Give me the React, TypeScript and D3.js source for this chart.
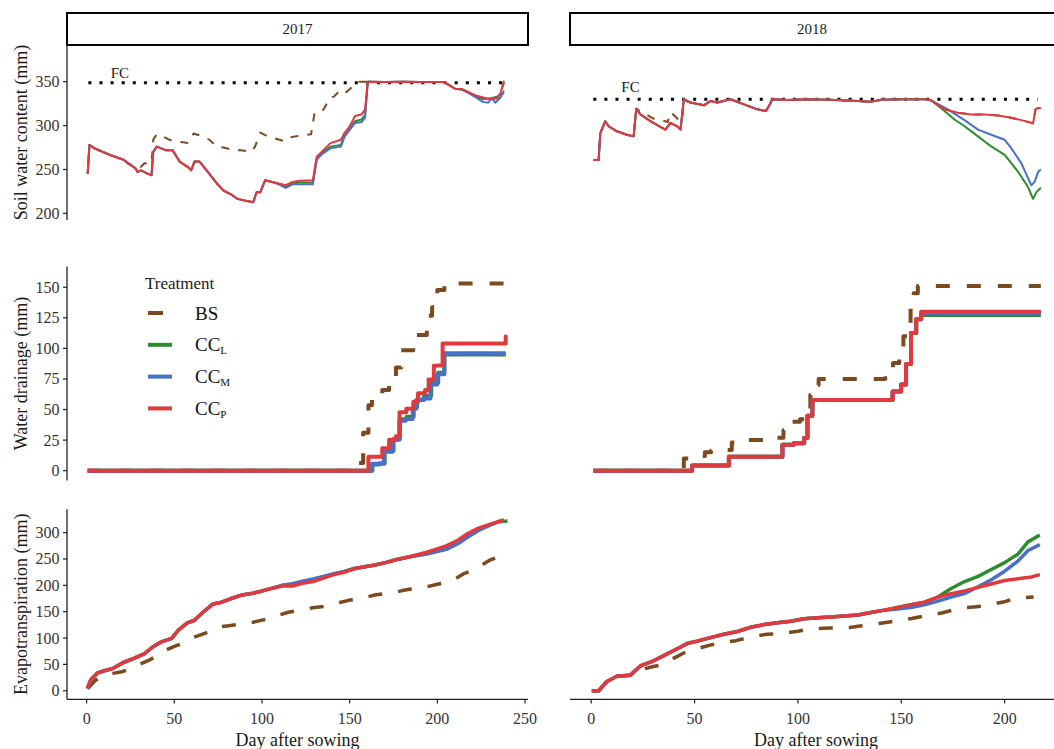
import React from "react";
import * as d3 from "d3";

type Pt = [number, number];

// ---- treatments ----
const treatments = ["BS", "CCL", "CCM", "CCP"];
const treatmentColors: Record<string, string> = {
  BS: "#7b4a1e",
  CCL: "#2e8b2e",
  CCM: "#4a6fc9",
  CCP: "#e03a3e",
};
const legendLabels: [string, string][] = [
  ["BS", ""],
  ["CC", "L"],
  ["CC", "M"],
  ["CC", "P"],
];

// ---- field capacity (mm) ----
const fc2017 = 348.9;
const fc2018 = 330;

// ---- soil water content 2017 (day, mm) ----
const swc2017_common: Pt[] = [
  [0.6, 245], [1.6, 278], [4.5, 274], [13.4, 266.5], [21, 261], [28, 251], [29, 247], [31, 249],
  [35, 245], [37, 243.5], [38, 270], [40, 276], [45, 272], [49, 272], [53, 259], [57.6, 253],
  [59.6, 249], [61.5, 259], [64.4, 259], [68.4, 249], [74.3, 234], [78, 226], [82, 222],
  [86, 216.5], [90, 214.6], [95, 212.7], [96.9, 224], [99, 224], [101.8, 237.7], [105.7, 235.8],
];
const swc2017_CCP: Pt[] = [
  ...swc2017_common,
  [109.6, 234], [113.5, 232], [117.5, 235.8], [121.4, 237], [129, 237.7], [131.2, 264.6], [134, 270],
  [139, 280], [145, 283.8], [147, 291.5], [150, 299], [153, 310.8], [156.8, 312.7], [158.8, 318.5],
  [160.3, 350], [170, 349.5], [180, 350], [190, 349.5], [204, 349.5], [206, 347], [210, 342],
  [214, 341.5], [218, 338], [222, 334], [226, 332], [230, 330], [234, 331], [236, 337], [238, 351],
];
const swc2017_CCM: Pt[] = [
  ...swc2017_common,
  [109.6, 233], [113.5, 229], [117.5, 233], [121.4, 233], [129, 233], [131.2, 261], [134, 267],
  [139, 274], [145, 276], [147, 287], [150, 295], [153, 303], [156.8, 304], [158.8, 309],
  [160.3, 350], [170, 349.5], [180, 350], [190, 349.5], [204, 349.5], [206, 347], [210, 342],
  [214, 341], [218, 337], [222, 332], [226, 327], [229, 326], [231, 331], [233, 326], [236, 332], [238, 340],
];
const swc2017_CCL: Pt[] = [
  ...swc2017_common,
  [109.6, 233.5], [113.5, 230], [117.5, 234], [121.4, 235], [129, 235], [131.2, 262], [134, 268],
  [139, 276], [145, 278], [147, 288], [150, 296], [153, 305], [156.8, 307], [158.8, 312],
  [160.3, 350], [170, 349.5], [180, 350], [190, 349.5], [204, 349.5], [206, 347], [210, 342],
  [214, 341], [218, 337], [222, 333], [226, 330], [230, 331], [234, 333], [236, 335], [238, 337],
];
const swc2017_BS: Pt[] = [
  [0.6, 245], [1.6, 278], [4.5, 274], [13.4, 266.5], [21, 261], [24, 256], [29, 255], [31, 253],
  [33, 257], [37, 257], [38, 284], [40, 290], [43, 288], [47, 284], [50, 282], [55, 281], [58, 280],
  [61, 291], [64, 289], [68, 285], [70, 284], [74, 276], [78, 275], [84, 272], [88, 272], [94, 270],
  [96, 276], [99, 292], [103, 288], [108, 285], [113, 282], [117, 287], [123, 289], [128, 290],
  [130, 315], [135, 318], [139, 332], [141, 333], [145, 341], [148, 338], [152, 345], [155, 350],
  [170, 349.5], [190, 349.5], [204, 349.5], [206, 347], [210, 342], [214, 341.5], [218, 338],
  [222, 334], [226, 332], [230, 330], [234, 331], [236, 337], [238, 349],
];

// ---- soil water content 2018 (day, mm) ----
const swc2018_early: Pt[] = [
  [1.1, 260.8], [3.6, 260.8], [4.4, 291.5], [6.8, 305], [8.4, 299.2], [12.4, 293.5], [17.3, 289.6],
  [20.5, 287.7], [21.8, 319.2],
];
const swc2018_mid: Pt[] = [
  [44.8, 330], [48, 326.2], [54.5, 323.1], [57.7, 328.1], [61, 326.2], [67.4, 330], [73.9, 324.2],
  [80.4, 318.5], [84.4, 316.5], [86, 322.3], [87.6, 330], [95, 329], [105, 330], [115, 329.5],
  [128.9, 328], [135.3, 327], [140.2, 329.5], [150, 330], [161.2, 330], [164.4, 328.8],
];
const swc2018_ccRecharge: Pt[] = [
  [23.8, 312.7], [28.6, 305], [34.3, 297.3], [35.9, 295.4], [38.3, 303.1], [41.6, 299.2], [43.2, 295.4],
];
const swc2018_CCP_late: Pt[] = [
  [170.9, 318.5], [177.4, 314.6], [183.8, 312.7], [190.3, 312.7], [196.8, 311.5], [203.2, 308.8],
  [208.1, 306.2], [212.9, 303.1], [213.7, 302.3], [214.9, 318.5], [216.2, 320], [217.5, 320],
];
const swc2018_CCP: Pt[] = [...swc2018_early, ...swc2018_ccRecharge, ...swc2018_mid, ...swc2018_CCP_late];
const swc2018_CCM: Pt[] = [
  ...swc2018_early, ...swc2018_ccRecharge, ...swc2018_mid,
  [172.5, 318.5], [180.6, 306.2], [187.1, 295.4], [193.5, 289.6], [200, 283.8], [203.2, 274.2],
  [208.1, 256.9], [212.9, 231.9], [214.5, 235.8], [216.2, 247.3], [217.5, 250],
];
const swc2018_CCL: Pt[] = [
  ...swc2018_early, ...swc2018_ccRecharge, ...swc2018_mid,
  [170.9, 316.5], [175.7, 306.9], [180.6, 299.2], [187.1, 287.7], [193.5, 276.2], [200, 266.5],
  [206.5, 247.3], [211.3, 230], [213.7, 216.5], [215.4, 224.2], [217.5, 229.2],
];
const swc2018_BS: Pt[] = [
  ...swc2018_early,
  [24, 316], [28.6, 310], [31, 307], [34.3, 306], [37, 304], [38.3, 315], [40, 312], [42, 307], [44, 306],
  ...swc2018_mid, ...swc2018_CCP_late,
];

// ---- cumulative drainage (day, mm) ----
const dr2017_BS: Pt[] = [
  [0.6, 0], [150, 0], [150.9, 4.2], [154.8, 6.2], [157.7, 31], [160.7, 53.5], [162.7, 59], [168.6, 66],
  [172.5, 74.6], [176.4, 84.4], [179.4, 98.5], [186.3, 111], [194, 126.6], [197, 133.7], [200, 147.7],
  [204, 153], [237, 153], [239, 159], [240, 159],
];
const dr2017_CCL: Pt[] = [
  [0.6, 0], [162, 0], [163, 5], [167, 6], [170, 16], [175, 26], [178.6, 42], [182.5, 44], [186.5, 52],
  [188.5, 58], [192.5, 61], [196.5, 72], [200.5, 80], [204, 95], [239, 95],
];
const dr2017_CCM: Pt[] = [
  [0.6, 0], [162, 0], [162.7, 5.6], [166.6, 5.6], [169.6, 15.5], [174.5, 25.3], [178.4, 40.8], [182, 42.2],
  [186, 50.6], [188, 57.7], [192, 59.1], [196, 70.4], [200, 78.8], [204, 96], [239, 96],
];
const dr2017_CCP: Pt[] = [
  [0.6, 0], [159.7, 0], [160.7, 11.3], [166.6, 11.3], [168.6, 18.3], [172.5, 25.3], [176.4, 28.1],
  [178.4, 47.8], [182.3, 50.7], [186.3, 56.3], [189, 63.3], [193, 66], [195, 74.6], [198, 85.8],
  [200, 86], [203, 104], [237, 104], [239, 109.7], [240, 109.7],
];
const dr2018_BS: Pt[] = [
  [1.1, 0], [44.8, 10], [49, 12], [55, 15], [58, 16.3], [66, 17], [68, 23], [76, 25], [86, 25.5],
  [90, 27], [93, 33], [95.7, 40], [101, 42], [104, 50], [106, 62], [108, 70], [110, 75], [142, 75.5],
  [144, 80], [146, 88], [149, 100], [151, 110], [153, 120], [154.5, 135], [156, 145], [158, 151], [217.5, 151],
];
const dr2018_rise: Pt[] = [
  [1.1, 0], [48.8, 4.2], [66.6, 11.3], [92.5, 21.1], [98, 22.5], [103, 26.7], [104.6, 45], [107, 57.7],
  [145.8, 64.7], [149.9, 70.4], [152.3, 87.2], [154.7, 112.6], [157.2, 123.8],
];
const dr2018_CCL: Pt[] = [...dr2018_rise, [159.6, 127.2], [217.5, 127.2]];
const dr2018_CCM: Pt[] = [...dr2018_rise, [159.6, 128.9], [217.5, 128.9]];
const dr2018_CCP: Pt[] = [...dr2018_rise, [159.6, 130], [217.5, 130]];

// ---- cumulative evapotranspiration (day, mm) ----
const et2017_common: Pt[] = [
  [0.4, 4.6], [2.4, 21], [6.3, 34], [9.2, 37], [15.1, 42.5], [21, 53.6], [26.9, 61.4], [32.8, 70],
  [37.7, 83], [42.6, 92.8], [48.5, 99.3], [52.5, 115.7], [57.4, 128.8], [61.3, 133.3], [66.2, 148.4],
  [72.1, 164.7], [77, 168], [82, 174.5], [87.9, 181], [93.8, 184.3], [99.6, 188.9], [105.5, 194.1],
];
const et2017_CCP: Pt[] = [
  ...et2017_common,
  [111.4, 198.7], [117.3, 198.7], [123.2, 203.9], [129.1, 207.2], [135, 213.7], [140.9, 220.3],
  [146.8, 224.8], [152.7, 231.4], [158.6, 235.3], [164.5, 238.6], [170.4, 243.1], [176.3, 248.4],
  [182.2, 252.9], [188.1, 257.5], [194, 262.7], [199.9, 269.3], [205.8, 275.8], [211.7, 285.6],
  [217.6, 298.7], [223.5, 308.5], [229.4, 315], [234.3, 320.5], [238, 324],
];
const et2017_CCM: Pt[] = [
  ...et2017_common,
  [111.4, 200], [117.3, 203], [123.2, 208], [129.1, 212], [135, 217], [140.9, 222], [146.8, 226.5],
  [152.7, 232], [158.6, 235.3], [164.5, 238.6], [170.4, 243.1], [176.3, 248.4], [182.2, 252.9],
  [188.1, 256], [194, 259.5], [199.9, 264], [205.8, 269], [211.7, 279], [217.6, 292], [223.5, 304],
  [229.4, 313], [234.3, 320], [238, 323],
];
const et2017_CCL: Pt[] = [
  ...et2017_common,
  [111.4, 199.5], [117.3, 202], [123.2, 207], [129.1, 210.5], [135, 216], [140.9, 221], [146.8, 226],
  [152.7, 232], [158.6, 235.3], [164.5, 238.6], [170.4, 243.1], [176.3, 248.4], [182.2, 252.9],
  [188.1, 257], [194, 261], [199.9, 266], [205.8, 272], [211.7, 282], [217.6, 295], [223.5, 306],
  [229.4, 314], [234.3, 320], [240, 322],
];
const et2017_BS: Pt[] = [
  [0.6, 4], [5, 20], [10, 30], [15, 33], [20, 36], [25, 42], [30, 50], [35, 57], [40, 66], [45, 77],
  [50, 84], [55, 90], [60, 100], [65, 106], [70, 112], [75, 121], [80, 123], [85, 125], [90, 127],
  [95, 130], [100, 134], [105, 137], [110, 144], [115, 149], [120, 152], [125, 155], [130, 158],
  [135, 160], [140, 163], [145, 168], [150, 172], [155, 174], [160, 178], [165, 182], [170, 184],
  [175, 186], [180, 190], [185, 193], [190, 195], [195, 198], [200, 202], [205, 205], [210, 212],
  [215, 222], [220, 228], [225, 238], [230, 248], [235, 254], [238, 257],
];
const et2018_common: Pt[] = [
  [0.3, 0], [3.6, 0], [7.6, 17.6], [12.4, 27.5], [18.9, 29.4], [20.5, 35.3], [23.8, 47.1], [30.2, 56.9],
  [35.1, 66.7], [41.6, 79.7], [46.4, 89.5], [51.3, 94.1], [57.7, 100.7], [64.2, 107.2], [70.7, 112.4],
  [77.1, 120.3], [83.6, 125.5], [90.1, 128.8], [96.5, 132], [103, 136.6], [109.5, 138.6],
  [115.9, 139.9], [122.4, 141.8], [128.9, 143.8], [135.3, 148.4], [141.8, 152.9],
];
const et2018_CCP: Pt[] = [
  ...et2018_common,
  [148.3, 158.2], [154.7, 163.4], [161.2, 168], [167.7, 177.8], [174.1, 184.3], [180.6, 189.5],
  [187.1, 196.1], [193.5, 202.6], [200, 209.2], [206.5, 212.4], [212.9, 215.7], [217, 220.3],
];
const et2018_CCM: Pt[] = [
  ...et2018_common,
  [148.3, 155], [154.7, 158], [161.2, 163], [167.7, 170], [174.1, 177.8], [180.6, 184.3],
  [187.1, 197.4], [193.5, 210.5], [200, 226.8], [206.5, 246.4], [211.3, 266], [217, 277.1],
];
const et2018_CCL: Pt[] = [
  ...et2018_common,
  [148.3, 158.2], [154.7, 163.4], [161.2, 168], [167.7, 177.8], [174.1, 194.1], [180.6, 207.2],
  [187.1, 217], [193.5, 230], [200, 243.1], [206.5, 259.5], [211.3, 282.4], [217, 295.4],
];
const et2018_BS: Pt[] = [
  [0.3, 0], [3.6, 0], [7.6, 17.6], [12.4, 27.5], [18.9, 29.4], [22, 35], [26, 42], [30, 46], [35, 50],
  [40, 62], [45, 72], [50, 78], [55, 84], [60, 89], [65, 92], [70, 95], [75, 100], [80, 104], [85, 107],
  [90, 108], [95, 110], [100, 113], [105, 117], [110, 118], [115, 119], [120, 119.5], [125, 120],
  [130, 123], [135, 125], [140, 128], [145, 131], [150, 134], [155, 137], [160, 141], [165, 144],
  [170, 148], [175, 153], [180, 157], [185, 159], [190, 161], [195, 165], [200, 169], [205, 175],
  [210, 177], [214, 178],
];

// ---- tick values ----
const xTicks2017 = [0, 50, 100, 150, 200, 250];
const xTicks2018 = [0, 50, 100, 150, 200];
const swcTicks = [200, 250, 300, 350];
const drainTicks = [0, 25, 50, 75, 100, 125, 150];
const etTicks = [0, 50, 100, 150, 200, 250, 300];
const years = ["2017", "2018"];

// ---- layout ----
const W = 1054;
const H = 749;
const FONT = '"Liberation Serif", "Times New Roman", serif';

const xScales = [
  d3.scaleLinear().domain([-11.2, 251.7]).range([67, 528]),
  d3.scaleLinear().domain([-10.26, 231.6]).range([570, 1070]),
];

type Row = {
  y: d3.ScaleLinear<number, number>;
  ticks: number[];
  title: string;
  width: number;
  dash: string;
  curve: d3.CurveFactory;
  series: Record<string, Pt[]>[];
};

const rows: Row[] = [
  {
    y: d3.scaleLinear().domain([192.4, 391.8]).range([220, 45]),
    ticks: swcTicks,
    title: "Soil water content (mm)",
    width: 2,
    dash: "8 9",
    curve: d3.curveLinear,
    series: [
      { BS: swc2017_BS, CCL: swc2017_CCL, CCM: swc2017_CCM, CCP: swc2017_CCP },
      { BS: swc2018_BS, CCL: swc2018_CCL, CCM: swc2018_CCM, CCP: swc2018_CCP },
    ],
  },
  {
    y: d3.scaleLinear().domain([-7.95, 166.95]).range([480.4, 266.5]),
    ticks: drainTicks,
    title: "Water drainage (mm)",
    width: 4,
    dash: "14 17",
    curve: d3.curveStepAfter,
    series: [
      { BS: dr2017_BS, CCL: dr2017_CCL, CCM: dr2017_CCM, CCP: dr2017_CCP },
      { BS: dr2018_BS, CCL: dr2018_CCL, CCM: dr2018_CCM, CCP: dr2018_CCP },
    ],
  },
  {
    y: d3.scaleLinear().domain([-16.4, 344.4]).range([699.4, 509.2]),
    ticks: etTicks,
    title: "Evapotranspiration (mm)",
    width: 3.5,
    dash: "14 16",
    curve: d3.curveLinear,
    series: [
      { BS: et2017_BS, CCL: et2017_CCL, CCM: et2017_CCM, CCP: et2017_CCP },
      { BS: et2018_BS, CCL: et2018_CCL, CCM: et2018_CCM, CCP: et2018_CCP },
    ],
  },
];

const fcLines = [
  { value: fc2017, from: 1, to: 238, labelDay: 19, labelValue: 360 },
  { value: fc2018, from: 1, to: 216, labelDay: 19, labelValue: 344 },
];

export default function App() {
  const axisColor = "#222";
  const tickText = "#333";

  return (
    <svg
      width={W}
      height={H}
      viewBox={`0 0 ${W} ${H}`}
      style={{ position: "absolute", left: 0, top: 0, background: "#fff", fontFamily: FONT }}
    >
      <defs>
        {rows.map((row, ri) =>
          xScales.map((xs, ci) => {
            const [x0, x1] = xs.range();
            const [yb, yt] = row.y.range();
            return (
              <clipPath id={`clip-${ri}-${ci}`} key={`c${ri}${ci}`}>
                <rect x={x0} y={yt} width={x1 - x0} height={yb - yt} />
              </clipPath>
            );
          })
        )}
      </defs>

      {/* facet strips */}
      {xScales.map((xs, ci) => {
        const [x0, x1] = xs.range();
        return (
          <g key={`strip${ci}`}>
            <rect x={x0} y={13} width={x1 - x0} height={32} fill="#fff" stroke="#000" strokeWidth={2} />
            <text x={(x0 + Math.min(x1, W + 16)) / 2 - (ci === 1 ? 8 : 0)} y={29} fontSize={15} fill="#1a1a1a"
              textAnchor="middle" dominantBaseline="central">
              {years[ci]}
            </text>
          </g>
        );
      })}

      {rows.map((row, ri) => {
        const [yb, yt] = row.y.range();
        const xs0 = xScales[0];
        return (
          <g key={`row${ri}`}>
            {/* y axis (left column only) */}
            <line x1={67} x2={67} y1={yt} y2={yb} stroke={axisColor} strokeWidth={1.3} />
            {row.ticks.map((t) => (
              <g key={t}>
                <line x1={63} x2={67} y1={row.y(t)} y2={row.y(t)} stroke={axisColor} strokeWidth={1.2} />
                <text x={59.5} y={row.y(t)} fontSize={16} fill={tickText} textAnchor="end" dominantBaseline="central">
                  {t}
                </text>
              </g>
            ))}
            <text
              transform={`translate(21,${(yb + yt) / 2}) rotate(-90)`}
              fontSize={18}
              fill="#1a1a1a"
              textAnchor="middle"
              dominantBaseline="central"
            >
              {row.title}
            </text>

            {xScales.map((xs, ci) => {
              const line = d3
                .line<Pt>()
                .x((d) => xs(d[0]))
                .y((d) => row.y(d[1]))
                .curve(row.curve);
              const s = row.series[ci];
              return (
                <g key={`p${ci}`} clipPath={`url(#clip-${ri}-${ci})`}>
                  {ri === 0 && (
                    <line
                      x1={xs(fcLines[ci].from)}
                      x2={xs(fcLines[ci].to)}
                      y1={row.y(fcLines[ci].value)}
                      y2={row.y(fcLines[ci].value)}
                      stroke="#000"
                      strokeWidth={3}
                      strokeDasharray="3 8.1"
                    />
                  )}
                  {ri === 0 && (
                    <text
                      x={xs(fcLines[ci].labelDay)}
                      y={row.y(fcLines[ci].labelValue)}
                      fontSize={15}
                      fill="#1a1a1a"
                      textAnchor="middle"
                      dominantBaseline="central"
                    >
                      FC
                    </text>
                  )}
                  {treatments.map((k) => (
                    <path
                      key={k}
                      d={line(s[k]) || ""}
                      fill="none"
                      stroke={treatmentColors[k]}
                      strokeWidth={row.width}
                      strokeDasharray={k === "BS" ? row.dash : undefined}
                      strokeLinejoin="round"
                    />
                  ))}
                </g>
              );
            })}
            {ri === 2 &&
              xScales.map((xs, ci) => {
                const [x0, x1] = xs.range();
                const ticks = ci === 0 ? xTicks2017 : xTicks2018;
                return (
                  <g key={`xa${ci}`}>
                    <line x1={x0} x2={x1} y1={yb} y2={yb} stroke={axisColor} strokeWidth={1.3} />
                    {ticks.map((t) => (
                      <g key={t}>
                        <line x1={xs(t)} x2={xs(t)} y1={yb} y2={yb + 4} stroke={axisColor} strokeWidth={1.2} />
                        <text x={xs(t)} y={yb + 19} fontSize={16} fill={tickText} textAnchor="middle"
                          dominantBaseline="central">
                          {t}
                        </text>
                      </g>
                    ))}
                    <text x={ci === 0 ? (x0 + x1) / 2 : 816} y={740} fontSize={18} fill="#1a1a1a"
                      textAnchor="middle" dominantBaseline="central">
                      Day after sowing
                    </text>
                  </g>
                );
              })}
            {ri === 1 && xs0 && null}
          </g>
        );
      })}

      {/* legend */}
      <g>
        <text x={145} y={283} fontSize={17} fill="#1a1a1a" dominantBaseline="central">
          Treatment
        </text>
        {treatments.map((k, i) => {
          const y = 313 + i * 31.8;
          return (
            <g key={k}>
              <line
                x1={148}
                x2={k === "BS" ? 163 : 172}
                y1={y}
                y2={y}
                stroke={treatmentColors[k]}
                strokeWidth={4}
              />
              <text x={195} y={y + 6.5} fontSize={19} fill="#111">
                {legendLabels[i][0]}
                {legendLabels[i][1] && (
                  <tspan fontSize={11} dy={3}>
                    {legendLabels[i][1]}
                  </tspan>
                )}
              </text>
            </g>
          );
        })}
      </g>
    </svg>
  );
}
